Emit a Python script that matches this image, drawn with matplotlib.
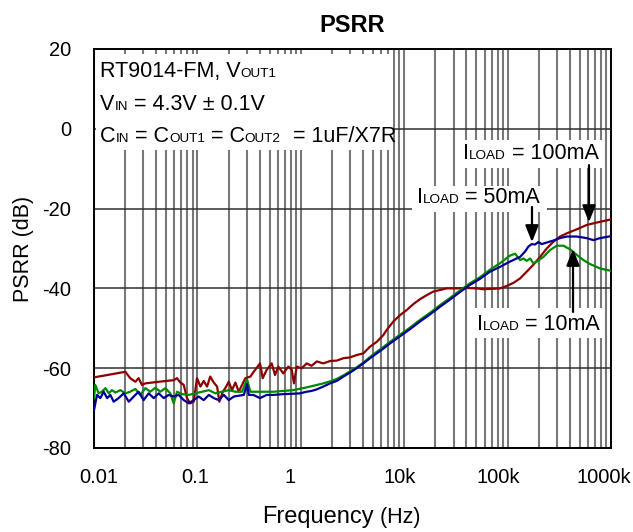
import matplotlib
matplotlib.use('Agg')
import matplotlib.pyplot as plt
from matplotlib.patches import Rectangle

plt.rcParams['font.family'] = 'Liberation Sans'
plt.rcParams['axes.unicode_minus'] = False

# ---- data (frequency in Hz, PSRR in dB) ----
freq_100ma = [10, 20.1, 22.4, 25.1, 27.0, 29.1, 31.4, 42.3, 59.0, 63.5, 68.4, 73.8,
              79.3, 85.4, 92.1, 99.1, 107, 115, 124, 133, 144, 155, 163, 176, 186,
              201, 216, 233, 251, 270, 291, 325, 348, 403, 428, 468, 523, 563, 605,
              677, 757, 817, 859, 912, 1020, 1140, 1270, 1430, 1650, 1920, 2220,
              2580, 2990, 3470, 4020, 4670, 5420, 6280, 6770, 7850, 9110, 10600,
              12300, 14200, 16500, 19100, 22200, 25700, 32200, 40200, 50200, 58200,
              72800, 84400, 98000, 114000, 132000, 153000, 177000, 206000, 239000,
              277000, 321000, 373000, 466000, 582000, 727000, 1000000]
psrr_100ma = [-62.3, -60.9, -62.5, -63.4, -62.5, -64.2, -63.8, -63.4, -63.0, -62.5, -63.6, -64.2,
              -67.5, -68.8, -68.4, -62.5, -64.6, -63.2, -64.6, -62.1, -63.6, -64.6, -68.4, -65.9, -65.0,
              -63.4, -65.5, -63.6, -65.9, -64.2, -62.5, -62.1, -61.0, -58.8, -62.5, -60.4, -58.8, -61.7, -59.6,
              -61.3, -59.6, -60.4, -63.8, -59.6, -60.0, -58.8, -59.4, -58.3, -58.8, -58.2, -58.1,
              -57.5, -57.3, -56.7, -56.3, -54.6, -53.4, -51.7, -50.4, -48.3, -46.7, -45.4,
              -43.9, -42.7, -41.7, -40.8, -40.4, -40.0, -40.0, -39.9, -40.0, -40.2,
              -40.1, -40.0, -39.4, -38.6, -37.5, -35.8, -34.1, -32.1, -30.0,
              -28.3, -27.0, -26.2, -25.2, -24.1, -23.5, -22.7]

freq_50ma = [10, 10.7, 11.5, 12.4, 13.4, 14.4, 15.5, 17.3, 19.4, 21.7, 24.2, 27.0, 30.2,
             33.8, 37.8, 42.3, 47.2, 52.8, 59.0, 65.9, 73.8, 82.4, 92.1, 103, 115, 129,
             144, 161, 180, 201, 225, 251, 281, 302, 314, 348, 403, 468, 542, 677, 846,
             982, 1140, 1270, 1430, 1650, 1920, 2220, 2580, 2990, 3470, 4020, 4670, 5420,
             6280, 7290, 9110, 11400, 14200, 17800, 22200, 27700, 34700, 43300, 54100,
             67600, 84400, 105000, 132000, 147000, 159000, 171000, 184000, 198000,
             214000, 239000, 277000, 321000, 373000, 466000, 582000, 675000, 783000,
             1000000]
psrr_50ma = [-70.5, -66.7, -67.5, -65.9, -67.5, -66.7, -68.4, -67.5, -66.3, -68.4, -67.1, -65.9, -68.0,
             -66.3, -67.5, -66.3, -67.5, -66.7, -67.1, -66.7, -68.0, -68.8, -68.0, -67.1, -68.0, -66.7,
             -67.5, -68.0, -66.7, -68.0, -67.1, -66.9, -66.7, -64.0, -66.7, -66.7, -67.5, -66.7, -66.7, -66.5, -66.4,
             -66.3, -65.9, -65.7, -65.3, -64.6, -63.8, -63.2, -62.1, -61.1, -60.0, -58.8, -57.5, -56.3,
             -55.1, -53.8, -52.0, -50.2, -48.3, -46.5, -44.6, -42.8, -40.9, -39.1, -37.6,
             -35.8, -34.6, -33.3, -32.1, -30.8, -29.5, -28.9, -29.0, -28.4,
             -28.9, -28.5, -28.0, -27.4, -27.0, -27.0, -27.4, -27.9, -27.4,
             -26.9]

freq_10ma = [10, 10.3, 11.1, 11.9, 12.9, 13.9, 14.9, 16.1, 18.0, 20.1, 22.4, 25.1, 28.0,
             31.4, 35.0, 39.2, 43.8, 49.0, 54.7, 59.0, 63.5, 71.0, 82.4, 95.4, 111, 129,
             149, 173, 201, 233, 270, 302, 325, 403, 542, 846, 1140, 1430, 1650, 1920,
             2220, 2580, 2990, 3470, 4020, 4670, 5420, 6280, 7290, 9110, 11400, 14200,
             17800, 22200, 27700, 34700, 43300, 54100, 67600, 84400, 105000, 118000,
             132000, 142000, 153000, 165000, 177000, 191000, 222000, 257000, 298000,
             346000, 401000, 466000, 540000, 627000, 783000, 1000000]
psrr_10ma = [-67.5, -64.2, -66.3, -65.9, -65.0, -66.3, -65.5, -66.1, -65.5, -66.3, -65.9, -65.2, -66.7,
             -65.0, -65.9, -64.9, -65.9, -65.0, -66.3, -68.8, -65.9, -66.5, -66.7, -66.3, -65.9, -65.5,
             -66.3, -65.9, -65.5, -65.9, -65.9, -62.8, -65.9, -65.9, -65.9, -65.5, -64.8, -64.2, -63.8, -63.3,
             -62.7, -61.8, -60.8, -59.8, -58.6, -57.2, -55.9, -54.7, -53.4, -51.6, -49.8, -47.9,
             -46.1, -44.2, -42.4, -40.5, -38.7, -37.2, -35.3, -33.7, -31.8, -31.3,
             -32.9, -32.5, -33.1, -32.5, -33.7, -33.3, -32.1, -30.4, -29.3,
             -29.3, -30.2, -31.6, -32.9, -33.9, -35.0, -35.6]

x_ticks = [10, 100, 1000, 10000, 100000, 1000000]
x_ticklabels = ['0.01', '0.1', '1', '10k', '100k', '1000k']
y_ticks = [-80, -60, -40, -20, 0, 20]

# label nudges (pixels) as they sit in the reference
x_label_dx = [5, -2, -11, -5, -9, -7]

RED = '#8c0000'
BLUE = '#000096'
GREEN = '#008a00'

BIG = 15.5
SMALL = 9.7


def rich(ax, x, y, parts, coords='axes fraction', zorder=5):
    """Draw runs of text of different sizes on one baseline."""
    prev = None
    for s, size in parts:
        if prev is None:
            t = ax.annotate(s, xy=(x, y), xycoords=coords, fontsize=size,
                            ha='left', va='baseline', zorder=zorder)
        else:
            t = ax.annotate(s, xy=(1, y), xycoords=(prev, coords), fontsize=size,
                            ha='left', va='baseline', zorder=zorder)
        prev = t
    return prev


fig = plt.figure(figsize=(6.33, 5.32), dpi=100)
ax = fig.add_axes([0.1485, 0.1579, 0.8168, 0.75])

ax.plot(freq_100ma, psrr_100ma, color=RED, lw=1.6, zorder=3)
ax.plot(freq_10ma, psrr_10ma, color=GREEN, lw=1.6, zorder=3)
ax.plot(freq_50ma, psrr_50ma, color=BLUE, lw=1.6, zorder=3)

ax.set_xscale('log')
ax.set_xlim(10, 1e6)
ax.set_ylim(-80, 20)
ax.set_xticks(x_ticks)
ax.set_xticklabels([])
ax.set_yticks(y_ticks)
ax.xaxis.set_minor_formatter(plt.NullFormatter())
ax.tick_params(axis='x', which='both', length=0)
ax.tick_params(axis='y', which='both', length=0, pad=16.5, labelsize=14.5)

# x tick labels, placed by hand so they can carry the reference's offsets
for tx, lab, dx in zip(x_ticks, x_ticklabels, x_label_dx):
    ax.annotate(lab, xy=(tx, 0), xycoords=('data', 'axes fraction'),
                xytext=(dx, -30), textcoords='offset pixels',
                ha='center', va='center', fontsize=14.5, annotation_clip=False)

ax.set_axisbelow(True)
ax.grid(which='both', axis='x', color='#787878', lw=1.5)
ax.grid(which='major', axis='y', color='#303030', lw=1.1)
for sp in ax.spines.values():
    sp.set_linewidth(1.4)
    sp.set_color('black')

# white boxes behind the labels (they hide the grid)
for (bx, by, bw, bh) in [(0.004, 0.747, 0.574, 0.240),
                         (0.704, 0.702, 0.281, 0.070),
                         (0.615, 0.591, 0.261, 0.066),
                         (0.727, 0.276, 0.258, 0.075)]:
    ax.add_patch(Rectangle((bx, by), bw, bh, transform=ax.transAxes,
                           facecolor='white', edgecolor='none', zorder=1))

# condition text, upper left
rich(ax, 0.0116, 0.930, [('RT9014-FM, V', BIG), ('OUT1', SMALL)])
rich(ax, 0.0116, 0.847, [('V', BIG), ('IN', SMALL), (' = 4.3V \u00b1 0.1V', BIG)])
rich(ax, 0.0116, 0.768, [('C', BIG), ('IN', SMALL), (' = C', BIG), ('OUT1', SMALL),
                         (' = C', BIG), ('OUT2', SMALL), ('  = 1uF/X7R', BIG)])

# load current labels
rich(ax, 0.714, 0.724, [('I', BIG), ('LOAD', SMALL), (' = 100mA', BIG)])
rich(ax, 0.624, 0.613, [('I', BIG), ('LOAD', SMALL), (' = 50mA', BIG)])
rich(ax, 0.740, 0.296, [('I', BIG), ('LOAD', SMALL), (' = 10mA', BIG)])

arrow = dict(arrowstyle='-|>,head_length=0.5,head_width=0.2', mutation_scale=20,
             color='black', lw=1.6, shrinkA=0, shrinkB=0)
ax.annotate('', xy=(612000, -23.4), xytext=(612000, -9.1), arrowprops=arrow, zorder=6)
ax.annotate('', xy=(172000, -28.4), xytext=(172000, -19.6), arrowprops=arrow, zorder=6)
ax.annotate('', xy=(429000, -30.1), xytext=(429000, -45.9), arrowprops=arrow, zorder=6)

# title and axis labels
fig.text(352 / 633, 1 - 32 / 532, 'PSRR', ha='center', va='baseline',
         fontsize=17, fontweight='bold')
fig.text(23 / 633, 0.533, 'PSRR (dB)', rotation=90, ha='center', va='center',
         fontsize=15.5)
rich(ax, 262 / 633, 9 / 532, [('Frequency', 17), (' (Hz)', 15.5)], coords='figure fraction')

fig.savefig('out.png', dpi=100)
